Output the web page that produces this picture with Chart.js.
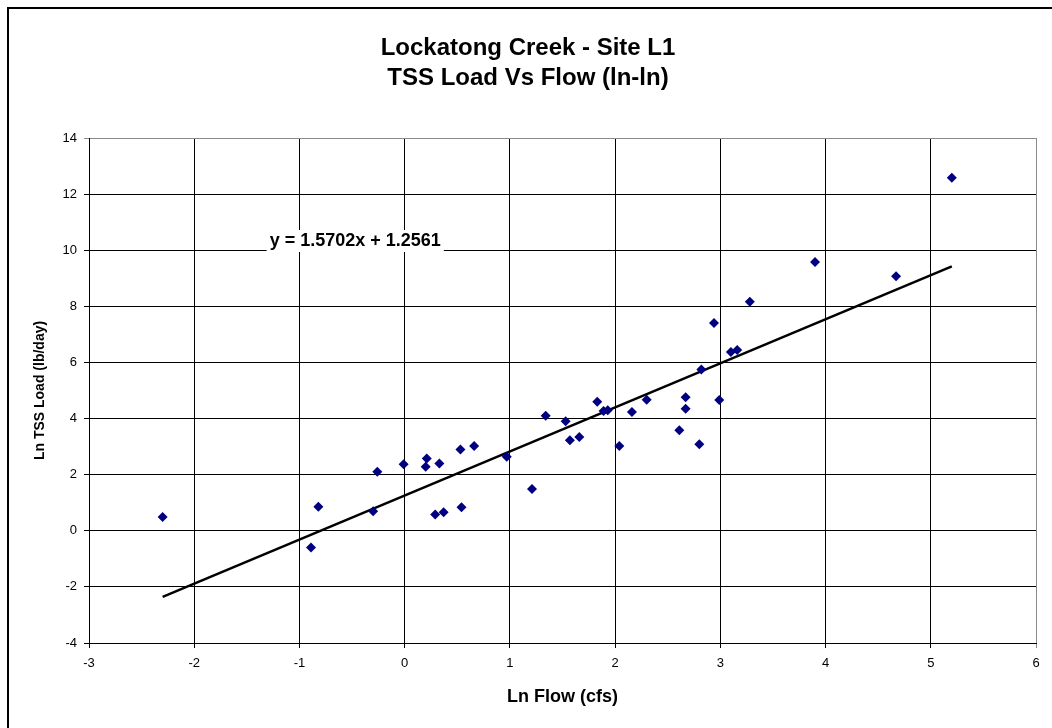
<!DOCTYPE html>
<html>
<head>
<meta charset="utf-8">
<script src="https://cdn.jsdelivr.net/npm/chart.js@4.4.1/dist/chart.umd.min.js"></script>
<style>
  html, body { margin: 0; padding: 0; background: #fff; }
  #wrap { width: 1052px; height: 728px; }
</style>
</head>
<body>
<div id="wrap"><canvas id="chart" width="1052" height="728"></canvas></div>
<script>
// Ln flow (cfs) vs Ln TSS load (lb/day)
const lnFlow = [
  -2.30, -0.82, -0.89, -0.26, -0.30, -0.01, 0.21, 0.20, 0.33, 0.53,
  0.66, 0.29, 0.37, 0.54, 0.97, 1.21, 1.34, 1.53, 1.57, 1.66,
  1.83, 1.89, 1.93, 2.04, 2.16, 2.30, 2.61, 2.67, 2.67, 2.80,
  2.82, 2.99, 3.10, 3.16, 2.94, 3.28, 3.90, 4.67, 5.20
];
const lnLoad = [
  0.49, 0.86, -0.60, 2.10, 0.70, 2.37, 2.58, 2.28, 2.40, 2.90,
  3.02, 0.58, 0.66, 0.84, 2.64, 1.49, 4.10, 3.90, 3.23, 3.34,
  4.60, 4.27, 4.30, 3.02, 4.23, 4.67, 3.58, 4.76, 4.35, 3.08,
  5.75, 4.66, 6.37, 6.44, 7.41, 8.16, 9.58, 9.07, 12.58
];

// linear trendline y = slope * x + intercept
const slope = 1.5702;
const intercept = 1.2561;
const trendLabel = 'y = 1.5702x + 1.2561';
const trendLabelAt = [-0.47, 10.33];

const xTicks = [-3, 6, 1];   // min, max, step
const yTicks = [-4, 14, 2];

const points = lnFlow.map((x, i) => ({ x: x, y: lnLoad[i] }));
const xLo = Math.min(...lnFlow);
const xHi = Math.max(...lnFlow);
const trend = [
  { x: xLo, y: slope * xLo + intercept },
  { x: xHi, y: slope * xHi + intercept }
];

const FONT = "'Liberation Sans', Arial, sans-serif";

// outer frame and equation label
const extras = {
  id: 'extras',
  beforeDraw(chart) {
    const ctx = chart.ctx;
    ctx.save();
    ctx.fillStyle = '#fff';
    ctx.fillRect(0, 0, chart.width, chart.height);
    ctx.strokeStyle = '#000';
    ctx.lineWidth = 2;
    ctx.strokeRect(8, 8, chart.width + 20, chart.height + 20);
    ctx.restore();
  },
  afterDraw(chart) {
    const ctx = chart.ctx;
    const px = chart.scales.x.getPixelForValue(trendLabelAt[0]);
    const py = chart.scales.y.getPixelForValue(trendLabelAt[1]);
    ctx.save();
    ctx.font = 'bold 18px ' + FONT;
    const w = ctx.measureText(trendLabel).width;
    ctx.fillStyle = '#fff';
    ctx.fillRect(px - w / 2 - 3, py - 11, w + 6, 22);
    ctx.fillStyle = '#000';
    ctx.textAlign = 'center';
    ctx.textBaseline = 'middle';
    ctx.fillText(trendLabel, px, py);
    ctx.restore();
  }
};

const edgeColor = (edge) => (c) => (c.tick && c.tick.value === edge ? '#8c8c8c' : '#000');

new Chart(document.getElementById('chart'), {
  type: 'scatter',
  data: {
    datasets: [
      {
        label: 'TSS Load',
        data: points,
        pointStyle: 'rectRot',
        pointRadius: 5,
        pointHoverRadius: 5,
        backgroundColor: '#000080',
        borderColor: '#000080',
        borderWidth: 0
      },
      {
        label: 'Linear',
        type: 'line',
        data: trend,
        borderColor: '#000',
        borderWidth: 2.5,
        pointRadius: 0,
        fill: false
      }
    ]
  },
  options: {
    responsive: false,
    animation: false,
    layout: { padding: { left: 20, right: 16, top: 0, bottom: 0 } },
    plugins: {
      legend: { display: false },
      tooltip: { enabled: false },
      title: {
        display: true,
        text: ['Lockatong Creek - Site L1', 'TSS Load Vs Flow (ln-ln)'],
        color: '#000',
        font: { family: FONT, size: 24, weight: 'bold', lineHeight: '30px' },
        padding: { top: 33, bottom: 45 }
      }
    },
    scales: {
      x: {
        type: 'linear',
        min: xTicks[0],
        max: xTicks[1],
        ticks: { stepSize: xTicks[2], color: '#000', font: { family: FONT, size: 13 }, padding: 8 },
        grid: { color: edgeColor(xTicks[1]), tickColor: edgeColor(xTicks[1]), tickLength: 5, lineWidth: 1 },
        border: { color: '#000', width: 1 },
        title: {
          display: true,
          text: 'Ln Flow (cfs)',
          color: '#000',
          font: { family: FONT, size: 18, weight: 'bold' },
          padding: { top: 0, bottom: 20 }
        },
        afterFit(s) { s.height = 85; }
      },
      y: {
        type: 'linear',
        min: yTicks[0],
        max: yTicks[1],
        ticks: { stepSize: yTicks[2], color: '#000', font: { family: FONT, size: 13 }, padding: 7 },
        grid: { color: edgeColor(yTicks[1]), tickColor: edgeColor(yTicks[1]), tickLength: 5, lineWidth: 1 },
        border: { color: '#000', width: 1 },
        title: {
          display: true,
          text: 'Ln TSS Load (lb/day)',
          color: '#000',
          font: { family: FONT, size: 14, weight: 'bold' },
          padding: { top: 12, bottom: 0 }
        },
        afterFit(s) { s.width = 69; }
      }
    }
  },
  plugins: [extras]
});
</script>
</body>
</html>
